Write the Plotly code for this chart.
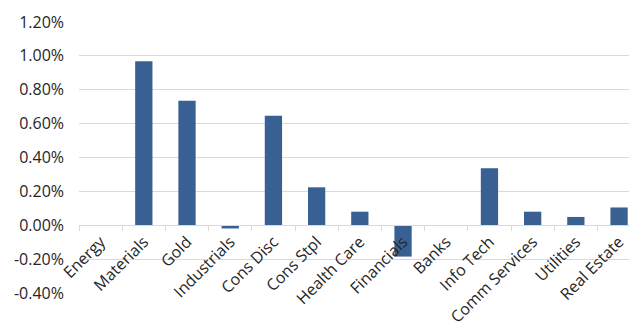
import plotly.graph_objects as go

categories = ["Energy", "Materials", "Gold", "Industrials", "Cons Disc", "Cons Stpl",
              "Health Care", "Financials", "Banks", "Info Tech", "Comm Services",
              "Utilities", "Real Estate"]
values = [-0.004, 0.969, 0.735, -0.019, 0.646, 0.224, 0.080, -0.185, 0.0, 0.337, 0.080, 0.049, 0.105]
y_ticks = [-0.4, -0.2, 0.0, 0.2, 0.4, 0.6, 0.8, 1.0, 1.2]
y_tick_labels = [f"{v:.2f}%" for v in y_ticks]

fig = go.Figure(go.Bar(
    x=categories, y=values,
    marker=dict(color="#386092", line=dict(width=0)),
    width=0.4,
))

fig.update_layout(
    width=629, height=327,
    margin=dict(l=79, r=0, t=22, b=32),
    paper_bgcolor="white", plot_bgcolor="white",
    font=dict(family="Open Sans", size=16, color="#262626"),
    showlegend=False,
    xaxis=dict(
        type="category",
        range=[-0.5, 12.23],
        anchor="free", position=0.25,
        tickangle=-45,
        showgrid=False,
        showline=True, linecolor="#d9d9d9", linewidth=1,
        ticks="outside", ticklen=5, tickcolor="#d9d9d9",
        tickson="boundaries",
        tickfont=dict(size=16),
    ),
    yaxis=dict(
        range=[-0.4, 1.2],
        tickvals=y_ticks, ticktext=y_tick_labels,
        showgrid=True, gridcolor="#d9d9d9", gridwidth=1,
        zeroline=False,
        ticklabelstandoff=14,
        tickfont=dict(size=16),
    ),
)

fig.write_html("out.html")
